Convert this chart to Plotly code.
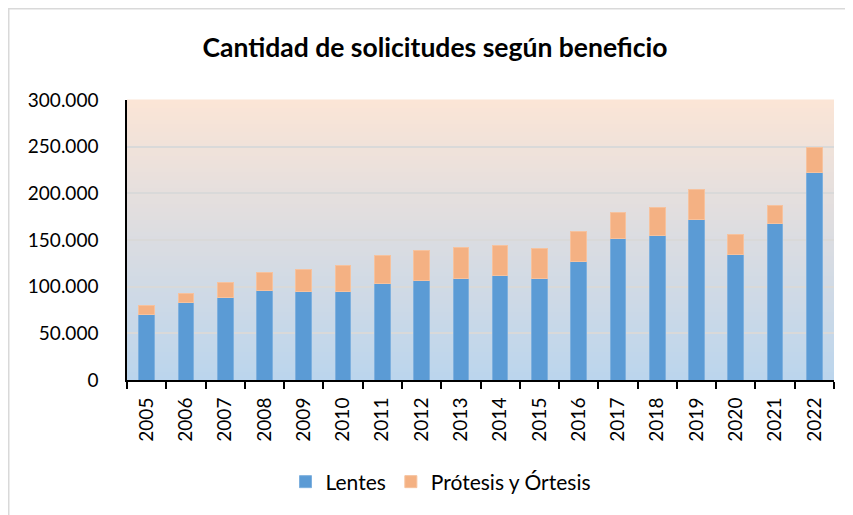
import plotly.graph_objects as go

years = ["2005", "2006", "2007", "2008", "2009", "2010", "2011", "2012", "2013",
         "2014", "2015", "2016", "2017", "2018", "2019", "2020", "2021", "2022"]
lentes = [70000, 82800, 88900, 95700, 95000, 95000, 103200, 107100, 108900,
          112100, 108900, 126800, 151400, 154600, 171800, 135000, 167500, 222100]
totales = [79300, 93200, 104600, 115400, 118900, 122500, 133900, 138600, 142500,
           144300, 141100, 158900, 179600, 185000, 204300, 156400, 187500, 248900]
protesis = [t - l for t, l in zip(totales, lentes)]

y_ticks = [0, 50000, 100000, 150000, 200000, 250000, 300000]

FONT = "Lato"
W, H = 853, 515
ML, MR, MT, MB = 119, 27, 92, 143
PW, PH = W - ML - MR, H - MT - MB

fig = go.Figure()
fig.add_trace(go.Bar(
    x=years, y=lentes, name="Lentes",
    marker=dict(color="#5B9BD5", line=dict(color="#7EB0DE", width=1)),
))
fig.add_trace(go.Bar(
    x=years, y=protesis, name="Prótesis y Órtesis",
    marker=dict(color="#F4B183", line=dict(color="#F6C29E", width=1)),
))

# gradient background for the plot area
def lerp(a, b, t):
    return tuple(round(a[i] + (b[i] - a[i]) * t) for i in range(3))

stops = [(0.0, (187, 213, 237)), (0.55, (222, 221, 224)), (1.0, (251, 229, 214))]
N = 70
shapes = []
for k in range(N):
    y0 = k / N
    y1 = (k + 1) / N
    tm = (y0 + y1) / 2
    for j in range(len(stops) - 1):
        if stops[j][0] <= tm <= stops[j + 1][0]:
            t = (tm - stops[j][0]) / (stops[j + 1][0] - stops[j][0])
            c = lerp(stops[j][1], stops[j + 1][1], t)
            break
    shapes.append(dict(type="rect", xref="x domain", yref="y domain",
                       x0=0, x1=1, y0=y0, y1=y1 + 0.002, layer="below",
                       line=dict(width=0), fillcolor="rgb(%d,%d,%d)" % c))

# outer chart border (top & left visible)
shapes.append(dict(type="rect", xref="paper", yref="paper",
                   x0=-(ML - 0.75) / PW, x1=(W - ML + 20) / PW,
                   y0=-(MB + 20) / PH, y1=1 + (MT - 0.75) / PH,
                   line=dict(color="#D9D9D9", width=1.5), layer="below"))

fig.update_layout(
    width=W, height=H,
    margin=dict(l=ML, r=MR, t=MT, b=MB, autoexpand=False),
    paper_bgcolor="white",
    plot_bgcolor="rgba(0,0,0,0)",
    barmode="stack",
    bargap=0.6,
    separators=",.",
    font=dict(family=FONT, color="black", size=19),
    title=dict(text="<b>Cantidad de solicitudes según beneficio</b>",
               x=(435 - 8) / W, xref="container", xanchor="center",
               y=1 - (48 - 8) / H, yref="container", yanchor="middle",
               font=dict(family=FONT, size=26.5, color="black")),
    legend=dict(orientation="h", x=(441 - 8) / W, xref="container", xanchor="center",
                y=1 - (482 - 8) / H, yref="container", yanchor="middle",
                font=dict(family=FONT, size=21), itemwidth=30,
                traceorder="normal"),
    shapes=shapes,
    xaxis=dict(type="category", showline=True, linecolor="black", linewidth=2,
               ticks="outside", tickson="boundaries", ticklen=7, tickwidth=2,
               tickcolor="black", tickangle=-90, showgrid=False,
               ticklabelstandoff=8,
               tickfont=dict(family=FONT, size=19)),
    yaxis=dict(range=[0, 300000], tickvals=y_ticks, tickformat=",d",
               showline=True, linecolor="black", linewidth=1.5,
               showgrid=True, gridcolor="#D9D9D9", gridwidth=1.5,
               ticks="", ticklabelstandoff=23, zeroline=False,
               tickfont=dict(family=FONT, size=19)),
)

fig.write_html("out.html")
